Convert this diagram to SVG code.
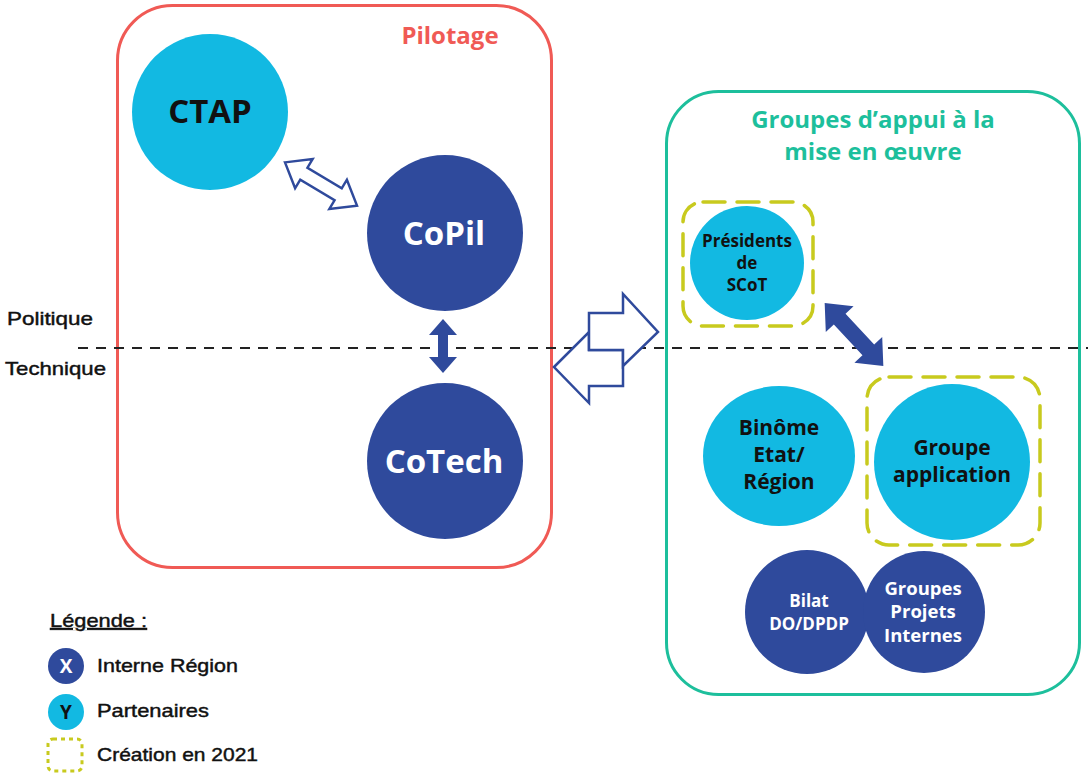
<svg xmlns="http://www.w3.org/2000/svg" width="1088" height="774" viewBox="0 0 1088 774">
<style>
.bg{fill:#fff}
.frame-red{fill:none;stroke:#f05a55;stroke-width:3}
.frame-teal{fill:none;stroke:#1dbf9c;stroke-width:3}
.new{fill:none;stroke:#c8ca1e;stroke-width:3.5;stroke-dasharray:22 12;stroke-linecap:round}
.dark{fill:#2f4a9c}
.light{fill:#12b9e2}
.outline{fill:#fff;stroke:#2f4a9c;stroke-width:2.5;stroke-linejoin:miter}
.solid{fill:#2f4a9c}
.sep{stroke:#222;stroke-width:2;stroke-dasharray:10 8}
.t{font-family:"Open Sans","Noto Sans","Liberation Sans",sans-serif;font-weight:bold;text-anchor:middle}
.w{fill:#fff}
.k{fill:#111}
.lbl{font-family:"Liberation Sans",Arial,sans-serif;fill:#111;stroke:#111;stroke-width:0.45;font-size:19px}
</style>
<rect class="bg" width="1088" height="774"/>

<g id="pilotage">
  <rect class="frame-red" x="117.5" y="5.5" width="434" height="562" rx="55"/>
  <text class="t" x="450" y="44" font-size="24" fill="#f05a55">Pilotage</text>
</g>
<g id="groupes-appui">
  <rect class="frame-teal" x="666.5" y="91.5" width="413" height="603" rx="52"/>
  <text class="t" x="873" y="128" font-size="24" fill="#1dbf9c">Groupes d’appui à la</text>
  <text class="t" x="873" y="160" font-size="24" fill="#1dbf9c">mise en œuvre</text>
</g>

<g id="separator">
  <line class="sep" x1="78" y1="348" x2="1088" y2="348"/>
  <text class="lbl" x="7" y="325" textLength="86" lengthAdjust="spacingAndGlyphs">Politique</text>
  <text class="lbl" x="5" y="375" textLength="101" lengthAdjust="spacingAndGlyphs">Technique</text>
</g>

<g id="connectors">
  <polygon class="outline" transform="translate(321,184) rotate(31)" points="-42,0 -20,-17 -20,-7 20,-7 20,-17 42,0 20,17 20,7 -20,7 -20,17"/>
  <polygon class="solid" transform="translate(443,346) rotate(90)" points="-27,0 -11,-14 -11,-5 11,-5 11,-14 27,0 11,14 11,5 -11,5 -11,14"/>
  <polygon class="solid" transform="translate(854,334.5) rotate(47)" points="-43,0 -21,-19 -21,-8 21,-8 21,-19 43,0 21,19 21,8 -21,8 -21,19"/>
  <polygon class="outline" points="554,367 589,332 589,350 623,350 623,386 589,386 589,403"/>
  <polygon class="outline" points="589,313 623,313 623,294 658,332 623,366 623,350 589,350"/>
</g>

<g id="ctap">
  <circle class="light" cx="210" cy="112" r="78"/>
  <text class="t k" x="210" y="123" font-size="33">CTAP</text>
</g>
<g id="copil">
  <circle class="dark" cx="445" cy="233" r="78"/>
  <text class="t w" x="444" y="245" font-size="33">CoPil</text>
</g>
<g id="cotech">
  <circle class="dark" cx="445" cy="461" r="78"/>
  <text class="t w" x="444" y="473" font-size="33">CoTech</text>
</g>

<g id="presidents-scot">
  <rect class="new" x="683" y="202" width="130" height="124" rx="20"/>
  <circle class="light" cx="747" cy="263" r="57"/>
  <text class="t k" x="747" y="247" font-size="17">Présidents</text>
  <text class="t k" x="747" y="269" font-size="17">de</text>
  <text class="t k" x="747" y="291" font-size="17">SCoT</text>
</g>
<g id="groupe-application">
  <rect class="new" x="867" y="377" width="173" height="168" rx="22"/>
  <circle class="light" cx="952" cy="462" r="78"/>
  <text class="t k" x="952" y="455" font-size="21">Groupe</text>
  <text class="t k" x="952" y="482" font-size="21">application</text>
</g>
<g id="binome">
  <ellipse class="light" cx="779" cy="456" rx="76" ry="70"/>
  <text class="t k" x="779" y="435" font-size="21">Binôme</text>
  <text class="t k" x="779" y="462" font-size="21">Etat/</text>
  <text class="t k" x="779" y="489" font-size="21">Région</text>
</g>
<g id="bilat">
  <circle class="dark" cx="807" cy="612" r="62"/>
  <text class="t w" x="809" y="607" font-size="17">Bilat</text>
  <text class="t w" x="809" y="630" font-size="17">DO/DPDP</text>
</g>
<g id="groupes-projets">
  <circle class="dark" cx="924" cy="612" r="61"/>
  <text class="t w" x="923" y="595" font-size="18.5">Groupes</text>
  <text class="t w" x="923" y="618" font-size="18.5">Projets</text>
  <text class="t w" x="923" y="642" font-size="18.5">Internes</text>
</g>

<g id="legende">
  <text class="lbl" x="50" y="627" text-decoration="underline" textLength="97" lengthAdjust="spacingAndGlyphs">Légende :</text>
  <circle class="dark" cx="66" cy="666" r="18"/>
  <text class="t w" x="66" y="673" font-size="19">X</text>
  <text class="lbl" x="97" y="672" textLength="141" lengthAdjust="spacingAndGlyphs">Interne Région</text>
  <circle class="light" cx="66" cy="712" r="18"/>
  <text class="t k" x="66" y="719" font-size="19">Y</text>
  <text class="lbl" x="97" y="717" textLength="112" lengthAdjust="spacingAndGlyphs">Partenaires</text>
  <rect x="48" y="739" width="34" height="32" rx="5" fill="none" stroke="#c8ca1e" stroke-width="3" stroke-dasharray="4 4"/>
  <text class="lbl" x="97" y="761" textLength="161" lengthAdjust="spacingAndGlyphs">Création en 2021</text>
</g>
</svg>
